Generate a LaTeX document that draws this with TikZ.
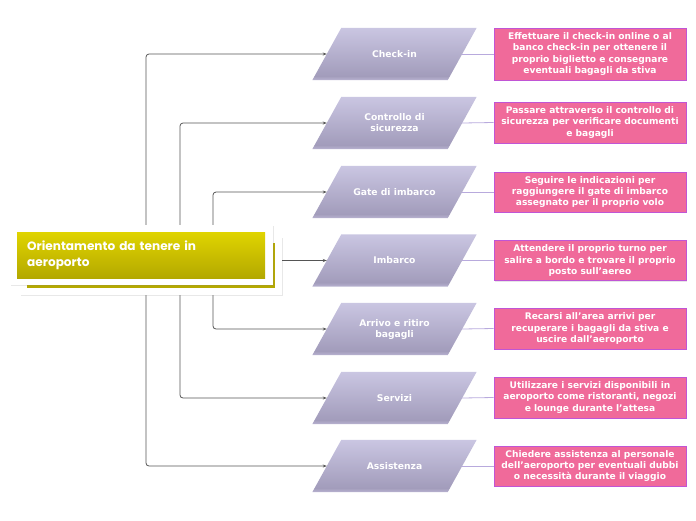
\documentclass[tikz,border=0pt]{standalone}
\usepackage{fontspec}
\newfontfamily\pfont{DejaVu Sans}
\newfontfamily\rfont{Poppins}
\usetikzlibrary{shadows,arrows.meta,calc}
\definecolor{pinkfill}{HTML}{F06A9A}
\definecolor{pinkline}{HTML}{C055D5}
\definecolor{plinkc}{HTML}{B8AADD}
\definecolor{conncol}{HTML}{555555}
\definecolor{ytop}{HTML}{E0D400}
\definecolor{ybot}{HTML}{B3A800}
\definecolor{yshadow}{HTML}{B5A900}
\definecolor{partop}{HTML}{CAC6E2}
\definecolor{pardark}{HTML}{A29CBB}
\definecolor{parlight}{HTML}{BAB4D2}
\pgfdeclareverticalshading{parashade}{100bp}{color(0bp)=(parlight); color(25bp)=(parlight); color(29bp)=(pardark); color(75bp)=(partop); color(100bp)=(partop)}
\tikzset{
  parabase/.style={minimum width=135, minimum height=52, inner sep=0, draw=none},
  paratext/.style={text=white, font=\pfont\bfseries\fontsize{9.2}{11}\selectfont, align=center, inner sep=0},
  pinkbox/.style={fill=pinkfill, draw=pinkline, line width=0.8pt, text=white,
    font=\pfont\bfseries\fontsize{9.1}{11.4}\selectfont, align=center, minimum width=192, inner sep=1,
    drop shadow={opacity=0.2, shadow xshift=1pt, shadow yshift=-1pt}},
  plink/.style={draw=plinkc, line width=0.8pt},
  conn/.style={draw=conncol, line width=0.8pt, rounded corners=3pt, -{Stealth[length=4pt,width=3pt]}},
  whitebox/.style={fill=white, draw=none, drop shadow={opacity=0.18, shadow xshift=1pt, shadow yshift=-1pt}},
  yellowbox/.style={top color=ytop, bottom color=ybot, draw=none}
}
\newcommand\parabox[3]{%
  \node[parabase] (#1) at (394.5,#2) {};
  \shade[shading=parashade] ($(#1.north west)+(14.5,0)$) -- ($(#1.north east)+(14.5,0)$) -- ($(#1.south east)+(-14.5,0)$) -- ($(#1.south west)+(-14.5,0)$) -- cycle;
  \node[paratext] (#1t) at (#1) {#3};}
\begin{document}
\begin{tikzpicture}[x=1pt,y=-1pt]
\useasboundingbox (0,0) rectangle (696,520);

\parabox{p1}{54}{Check-in}
\parabox{p2}{123}{Controllo di\\sicurezza}
\parabox{p3}{192}{Gate di imbarco}
\parabox{p4}{260.5}{Imbarco}
\parabox{p5}{329}{Arrivo e ritiro\\bagagli}
\parabox{p6}{398}{Servizi}
\parabox{p7}{466}{Assistenza}

\node[pinkbox, minimum height=52] (q1) at (590,54) {Effettuare il check-in online o al\\banco check-in per ottenere il\\proprio biglietto e consegnare\\eventuali bagagli da stiva};
\node[pinkbox, minimum height=41] (q2) at (590,122.5) {Passare attraverso il controllo di\\sicurezza per verificare documenti\\e bagagli};
\node[pinkbox, minimum height=40] (q3) at (590,192) {Seguire le indicazioni per\\raggiungere il gate di imbarco\\assegnato per il proprio volo};
\node[pinkbox, minimum height=40] (q4) at (590,260.5) {Attendere il proprio turno per\\salire a bordo e trovare il proprio\\posto sull’aereo};
\node[pinkbox, minimum height=41] (q5) at (590,328.5) {Recarsi all’area arrivi per\\recuperare i bagagli da stiva e\\uscire dall’aeroporto};
\node[pinkbox, minimum height=41] (q6) at (590,397.5) {Utilizzare i servizi disponibili in\\aeroporto come ristoranti, negozi\\e lounge durante l’attesa};
\node[pinkbox, minimum height=40] (q7) at (590,466) {Chiedere assistenza al personale\\dell’aeroporto per eventuali dubbi\\o necessità durante il viaggio};

\foreach \i in {1,...,7} { \draw[plink] (p\i.east) -- (q\i.west); }

\coordinate (t1) at (146,260.5);
\coordinate (t2) at (180,260.5);
\coordinate (t3) at (213,260.5);
\draw[conn] (t1) |- (p1.west);
\draw[conn] (t1) |- (p7.west);
\draw[conn] (t2) |- (p2.west);
\draw[conn] (t2) |- (p6.west);
\draw[conn] (t3) |- (p3.west);
\draw[conn] (t3) |- (p5.west);

\node[whitebox, minimum width=262, minimum height=58, anchor=north west, inner sep=0] (rootback) at (20,237) {};
\node[fill=yshadow, minimum width=248, minimum height=45, anchor=north west, inner sep=0] (rootbackfill) at (27,243) {};
\node[whitebox, minimum width=263, minimum height=60, anchor=north west, inner sep=0] (rootfront) at (10,225) {};
\node[yellowbox, minimum width=248, minimum height=46, anchor=north west, text width=228, align=left,
  inner xsep=10, inner ysep=0, text=white, font=\rfont\bfseries\fontsize{12.1}{15.5}\selectfont] (root) at (17,232) {Orientamento da tenere in\\aeroporto};

\draw[conn, rounded corners=0] (rootback.east |- p4.west) -- (p4.west);
\end{tikzpicture}
\end{document}
